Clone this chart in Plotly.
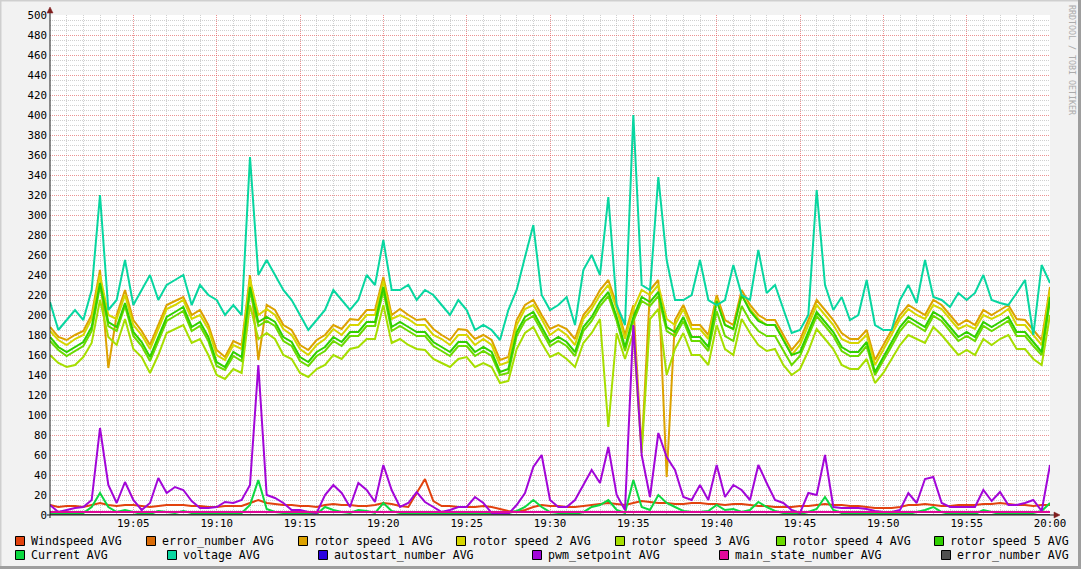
import pandas as pd
import plotly.graph_objects as go

# ---------------- data (30 s steps, 19:00 .. 20:00) ----------------
START = "2024-01-01 19:00:00"
END = "2024-01-01 20:00:00"
N_POINTS = 121
TIMES = pd.date_range(START, periods=N_POINTS, freq="30s")

TICK_TIMES = ["19:05", "19:10", "19:15", "19:20", "19:25", "19:30",
              "19:35", "19:40", "19:45", "19:50", "19:55", "20:00"]

windspeed = [10, 8, 9, 9, 8, 10, 12, 10, 9, 10, 10, 9, 8, 9, 10, 10, 10, 9, 9, 8,
             8, 9, 9, 9, 12, 15, 12, 11, 10, 10, 9, 9, 8, 10, 11, 10, 10, 9, 9, 10,
             12, 11, 9, 8, 22, 36, 14, 9, 9, 8, 8, 8, 9, 8, 6, 4, 3, 5, 8, 10,
             9, 9, 8, 8, 9, 10, 11, 12, 11, 10, 12, 14, 13, 12, 12, 11, 11, 12, 12, 11,
             11, 10, 11, 11, 10, 9, 9, 8, 8, 8, 9, 9, 10, 11, 10, 10, 9, 9, 8, 7,
             7, 7, 8, 10, 10, 11, 10, 9, 9, 10, 10, 10, 11, 11, 12, 11, 10, 10, 9, 10,
             10]

error_number_a = [0, 0, 0, 0, 0, 0, 0, 0, 0, 0, 0, 0, 0, 0, 0, 0, 0, 0, 0, 0,
                  0, 0, 0, 0, 0, 0, 0, 0, 0, 0, 0, 0, 0, 0, 0, 0, 0, 0, 0, 0,
                  0, 0, 0, 0, 0, 0, 0, 0, 0, 0, 0, 0, 0, 0, 0, 0, 0, 0, 0, 0,
                  0, 0, 0, 0, 0, 0, 0, 0, 0, 0, 0, 0, 0, 0, 0, 0, 0, 0, 0, 0,
                  0, 0, 0, 0, 0, 0, 0, 0, 0, 0, 0, 0, 0, 0, 0, 0, 0, 0, 0, 0,
                  0, 0, 0, 0, 0, 0, 0, 0, 0, 0, 0, 0, 0, 0, 0, 0, 0, 0, 0, 0,
                  0]

rotor1 = [188, 178, 175, 180, 184, 200, 245, 147, 200, 225, 195, 184, 170, 190, 210, 214, 218, 200, 205, 190,
          165, 158, 174, 170, 240, 155, 210, 205, 190, 185, 170, 165, 175, 180, 190, 186, 196, 195, 205, 205,
          238, 200, 206, 200, 195, 196, 186, 180, 175, 186, 185, 176, 180, 175, 155, 158, 195, 210, 215, 200,
          186, 190, 186, 176, 200, 210, 225, 235, 210, 180, 210, 65, 225, 235, 38, 195, 210, 190, 190, 180,
          220, 195, 190, 225, 210, 200, 195, 195, 180, 165, 175, 195, 215, 205, 195, 182, 176, 176, 185, 155,
          170, 186, 200, 210, 205, 200, 215, 210, 200, 190, 195, 190, 205, 200, 205, 210, 196, 195, 185, 175,
          228]

rotor2 = [184, 175, 170, 176, 180, 196, 240, 200, 196, 220, 190, 180, 166, 186, 206, 210, 215, 196, 200, 186,
          160, 155, 170, 166, 236, 200, 206, 200, 186, 180, 166, 160, 170, 176, 186, 180, 190, 190, 200, 200,
          234, 196, 200, 196, 190, 190, 180, 176, 170, 180, 180, 170, 176, 170, 150, 153, 190, 206, 210, 196,
          180, 186, 180, 170, 196, 206, 220, 230, 206, 176, 206, 225, 220, 230, 196, 190, 206, 186, 186, 176,
          216, 190, 186, 220, 206, 196, 190, 190, 176, 160, 170, 190, 210, 200, 190, 176, 172, 172, 180, 150,
          165, 180, 196, 206, 200, 196, 210, 206, 196, 186, 190, 186, 200, 196, 200, 206, 190, 190, 180, 170,
          225]

rotor3 = [160, 152, 148, 150, 158, 172, 215, 178, 170, 196, 166, 158, 142, 160, 182, 186, 190, 172, 176, 160,
          140, 136, 146, 142, 210, 176, 182, 176, 160, 156, 142, 138, 146, 150, 160, 156, 166, 168, 176, 176,
          210, 172, 176, 170, 166, 165, 156, 152, 148, 156, 158, 148, 152, 148, 132, 134, 166, 182, 188, 172,
          158, 162, 156, 148, 172, 182, 196, 88, 182, 156, 182, 62, 196, 206, 140, 166, 182, 160, 160, 150,
          190, 166, 160, 196, 182, 170, 164, 166, 150, 140, 146, 164, 186, 176, 166, 150, 146, 146, 156, 132,
          142, 156, 170, 180, 176, 172, 188, 180, 170, 160, 165, 160, 176, 170, 176, 180, 166, 166, 156, 150,
          200]

rotor4 = [174, 165, 159, 164, 169, 184, 229, 189, 184, 209, 179, 169, 154, 174, 194, 199, 204, 184, 189, 174,
          149, 145, 159, 154, 224, 189, 194, 189, 174, 169, 154, 149, 159, 164, 174, 169, 179, 179, 189, 189,
          224, 184, 189, 184, 179, 179, 169, 164, 159, 169, 169, 159, 164, 159, 140, 142, 179, 194, 199, 184,
          169, 174, 169, 159, 184, 194, 209, 219, 194, 164, 194, 214, 209, 219, 184, 179, 194, 174, 174, 164,
          204, 179, 174, 209, 194, 184, 179, 179, 164, 150, 159, 179, 199, 189, 179, 164, 159, 159, 169, 140,
          154, 169, 184, 194, 189, 184, 199, 194, 184, 174, 179, 174, 189, 184, 189, 194, 179, 179, 169, 160,
          214]

rotor5 = [178, 168, 163, 168, 173, 188, 232, 193, 188, 212, 183, 173, 158, 178, 198, 203, 208, 188, 193, 178,
          153, 148, 163, 158, 228, 193, 198, 193, 178, 173, 158, 153, 163, 168, 178, 173, 183, 183, 193, 193,
          228, 188, 193, 188, 183, 183, 173, 168, 163, 173, 173, 163, 168, 163, 143, 146, 183, 198, 203, 188,
          173, 178, 173, 163, 188, 198, 213, 223, 198, 168, 198, 218, 213, 223, 188, 183, 198, 178, 178, 168,
          214, 190, 186, 220, 204, 194, 190, 190, 175, 160, 163, 183, 203, 193, 183, 168, 163, 163, 173, 143,
          158, 173, 188, 198, 193, 188, 203, 198, 188, 178, 183, 178, 193, 188, 193, 198, 183, 183, 173, 163,
          218]

current = [2, 1, 1, 1, 2, 8, 22, 8, 3, 5, 3, 1, 1, 4, 3, 2, 4, 2, 1, 1,
           1, 1, 1, 2, 10, 35, 6, 3, 2, 1, 1, 1, 1, 8, 5, 3, 2, 5, 4, 2,
           12, 4, 2, 1, 1, 1, 1, 1, 1, 1, 1, 1, 1, 1, 1, 2, 4, 8, 15, 8,
           3, 2, 2, 1, 3, 8, 10, 15, 5, 2, 35, 8, 5, 20, 12, 8, 4, 3, 3, 4,
           10, 5, 6, 3, 5, 13, 8, 4, 2, 1, 1, 3, 6, 18, 5, 2, 1, 1, 1, 1,
           1, 1, 1, 1, 3, 5, 8, 3, 1, 1, 1, 1, 5, 3, 1, 1, 1, 2, 2, 4,
           12]

voltage = [213, 185, 195, 205, 195, 225, 320, 205, 215, 255, 210, 225, 240, 215, 230, 235, 240, 210, 230, 220,
           215, 200, 210, 200, 358, 240, 255, 240, 225, 215, 200, 185, 195, 205, 225, 215, 205, 215, 240, 230,
           275, 225, 225, 230, 215, 225, 220, 210, 200, 215, 205, 185, 190, 185, 175, 205, 225, 258, 290, 220,
           205, 210, 218, 190, 245, 260, 240, 318, 210, 190, 400, 230, 225, 338, 255, 215, 215, 220, 255, 215,
           210, 215, 250, 220, 215, 265, 222, 230, 205, 182, 185, 200, 325, 230, 205, 218, 195, 200, 235, 190,
           185, 185, 215, 230, 212, 255, 218, 215, 208, 222, 215, 222, 240, 215, 212, 210, 222, 235, 180, 250,
           232]

autostart = [0, 0, 0, 0, 0, 0, 0, 0, 0, 0, 0, 0, 0, 0, 0, 0, 0, 0, 0, 0,
             0, 0, 0, 0, 0, 0, 0, 0, 0, 0, 0, 0, 0, 0, 0, 0, 0, 0, 0, 0,
             0, 0, 0, 0, 0, 0, 0, 0, 0, 0, 0, 0, 0, 0, 0, 0, 0, 0, 0, 0,
             0, 0, 0, 0, 0, 0, 0, 0, 0, 0, 0, 0, 0, 0, 0, 0, 0, 0, 0, 0,
             0, 0, 0, 0, 0, 0, 0, 0, 0, 0, 0, 0, 0, 0, 0, 0, 0, 0, 0, 0,
             0, 0, 0, 0, 0, 0, 0, 0, 0, 0, 0, 0, 0, 0, 0, 0, 0, 0, 0, 0,
             0]

pwm_setpoint = [10, 3, 5, 7, 8, 15, 87, 30, 12, 33, 15, 5, 12, 37, 22, 28, 25, 14, 7, 7,
                8, 13, 12, 15, 30, 150, 20, 17, 12, 5, 5, 3, 2, 20, 30, 22, 8, 32, 25, 13,
                50, 25, 8, 12, 23, 13, 8, 3, 5, 8, 8, 18, 12, 2, 1, 1, 10, 22, 48, 60,
                15, 8, 8, 15, 30, 45, 32, 68, 20, 5, 190, 60, 18, 82, 58, 45, 18, 15, 30, 15,
                50, 18, 30, 25, 15, 50, 32, 15, 12, 5, 2, 22, 20, 60, 8, 7, 7, 7, 6, 4,
                3, 3, 5, 22, 12, 36, 38, 12, 8, 8, 8, 8, 25, 14, 23, 10, 10, 12, 15, 4,
                50]

main_state = [3, 3, 3, 3, 3, 3, 3, 3, 3, 3, 3, 3, 3, 3, 3, 3, 3, 3, 3, 3,
              3, 3, 3, 3, 3, 3, 3, 3, 3, 3, 3, 3, 3, 3, 3, 3, 3, 3, 3, 3,
              3, 3, 3, 3, 3, 3, 3, 3, 3, 3, 3, 3, 3, 3, 3, 3, 3, 3, 3, 3,
              3, 3, 3, 3, 3, 3, 3, 3, 3, 3, 3, 3, 3, 3, 3, 3, 3, 3, 3, 3,
              3, 3, 3, 3, 3, 3, 3, 3, 3, 3, 3, 3, 3, 3, 3, 3, 3, 3, 3, 3,
              3, 3, 3, 3, 3, 3, 3, 3, 3, 3, 3, 3, 3, 3, 3, 3, 3, 3, 3, 3,
              3]

error_number_b = [0, 0, 0, 0, 0, 0, 0, 0, 0, 0, 0, 0, 0, 0, 0, 0, 0, 0, 0, 0,
                  0, 0, 0, 0, 0, 0, 0, 0, 0, 0, 0, 0, 0, 0, 0, 0, 0, 0, 0, 0,
                  0, 0, 0, 0, 0, 0, 0, 0, 0, 0, 0, 0, 0, 0, 0, 0, 0, 0, 0, 0,
                  0, 0, 0, 0, 0, 0, 0, 0, 0, 0, 0, 0, 0, 0, 0, 0, 0, 0, 0, 0,
                  0, 0, 0, 0, 0, 0, 0, 0, 0, 0, 0, 0, 0, 0, 0, 0, 0, 0, 0, 0,
                  0, 0, 0, 0, 0, 0, 0, 0, 0, 0, 0, 0, 0, 0, 0, 0, 0, 0, 0, 0,
                  0]

SERIES_NAMES = ["Windspeed AVG", "error_number AVG", "rotor speed 1 AVG", "rotor speed 2 AVG",
                "rotor speed 3 AVG", "rotor speed 4 AVG", "rotor speed 5 AVG",
                "Current AVG", "voltage AVG", "autostart_number AVG", "pwm_setpoint AVG",
                "main_state_number AVG", "error_number AVG"]
SERIES_VALUES = [windspeed, error_number_a, rotor1, rotor2, rotor3, rotor4, rotor5,
                 current, voltage, autostart, pwm_setpoint, main_state, error_number_b]
SERIES_COLORS = ["#E2420E", "#DA6C08", "#DCA200", "#D6D600", "#A6DE00", "#6CDA00", "#30D000",
                 "#0CD840", "#08D6A0", "#2A00E0", "#A206D8", "#E0089A", "#505050"]

# ---------------- geometry helpers (pixel -> paper) ----------------
W, H = 1081, 569
L, R, T, B = 50, 1050, 15, 515


def px(x):
    return (x - L) / (R - L)


def py(y):
    return (B - y) / (B - T)


fig = go.Figure()
for name, vals, col in zip(SERIES_NAMES, SERIES_VALUES, SERIES_COLORS):
    fig.add_trace(go.Scatter(x=TIMES, y=vals, mode="lines", name=name,
                             line=dict(color=col, width=2), hoverinfo="skip",
                             showlegend=False))

MONO = "DejaVu Sans Mono"
tickvals = [pd.Timestamp("2024-01-01 " + t) for t in TICK_TIMES]
# minor grid positions (every minute / every 5 units), skipping the major ones
x_minor = [pd.Timestamp(START) + pd.Timedelta(minutes=m) for m in range(1, 60) if m % 5 != 0]
y_minor = [v for v in range(5, 500, 5) if v % 20 != 0]

MAJOR_GRID = "rgba(222,79,79,0.62)"
MINOR_GRID = "rgba(143,143,143,0.42)"

fig.update_layout(
    width=W, height=H,
    margin=dict(l=L, r=W - R, t=T, b=H - B),
    paper_bgcolor="#F2F2F2", plot_bgcolor="#FFFFFF",
    showlegend=False,
    font=dict(family=MONO, color="#000000", size=11),
    xaxis=dict(
        type="date", range=[START, END], tickmode="array", tickvals=tickvals,
        ticktext=TICK_TIMES, showline=False, zeroline=False, ticks="",
        showgrid=True, gridcolor=MAJOR_GRID, griddash="1px,1px", gridwidth=1,
        tickfont=dict(family=MONO, size=10.8, color="#000000"),
        automargin=False, fixedrange=True,
        minor=dict(tickmode="array", tickvals=x_minor, showgrid=True,
                   gridcolor=MINOR_GRID, griddash="1px,1px", gridwidth=1),
    ),
    yaxis=dict(
        range=[0, 500], tickmode="linear", tick0=0, dtick=20, showline=False,
        zeroline=False, ticks="", ticklabelstandoff=2,
        showgrid=True, gridcolor=MAJOR_GRID, griddash="1px,1px", gridwidth=1,
        tickfont=dict(family=MONO, size=10.8, color="#000000"),
        automargin=False, fixedrange=True,
        minor=dict(tickmode="array", tickvals=y_minor, showgrid=True,
                   gridcolor=MINOR_GRID, griddash="1px,1px", gridwidth=1),
    ),
)

shapes = []
# frame shading
shapes.append(dict(type="line", xref="paper", yref="paper", x0=px(0), x1=px(W), y0=py(0.75), y1=py(0.75),
                   line=dict(color="#CFCFCF", width=1.5)))
shapes.append(dict(type="line", xref="paper", yref="paper", x0=px(0.75), x1=px(0.75), y0=py(0), y1=py(H),
                   line=dict(color="#CFCFCF", width=1.5)))
shapes.append(dict(type="line", xref="paper", yref="paper", x0=px(W - 1.5), x1=px(W - 1.5), y0=py(0), y1=py(H),
                   line=dict(color="#9E9E9E", width=3)))
shapes.append(dict(type="line", xref="paper", yref="paper", x0=px(0), x1=px(W), y0=py(H - 1.5), y1=py(H - 1.5),
                   line=dict(color="#9E9E9E", width=3)))
# axes
shapes.append(dict(type="line", xref="paper", yref="paper", x0=px(L), x1=px(L), y0=py(B + 3), y1=py(11),
                   line=dict(color="#1F1F1F", width=1), layer="above"))
shapes.append(dict(type="line", xref="paper", yref="paper", x0=px(L - 3), x1=px(R + 6), y0=py(B), y1=py(B),
                   line=dict(color="#1F1F1F", width=1), layer="above"))
# arrows
shapes.append(dict(type="path", xref="paper", yref="paper",
                   path=f"M {px(L - 3)} {py(13)} L {px(L + 3)} {py(13)} L {px(L)} {py(7)} Z",
                   fillcolor="#801F1F", line=dict(color="#801F1F", width=0.5), layer="above"))
shapes.append(dict(type="path", xref="paper", yref="paper",
                   path=f"M {px(R + 4)} {py(B - 3)} L {px(R + 4)} {py(B + 3)} L {px(R + 10)} {py(B)} Z",
                   fillcolor="#801F1F", line=dict(color="#801F1F", width=0.5), layer="above"))

annotations = []
# legend (RRDtool style, two justified rows)
LEGEND_ROWS = [
    (541, [0, 1, 2, 3, 4, 5, 6], [15, 146, 298, 456, 615, 776, 934]),
    (555, [7, 8, 9, 10, 11, 12], [15, 167, 318, 532, 719, 941]),
]
for yrow, idxs, xs in LEGEND_ROWS:
    for i, x0 in zip(idxs, xs):
        shapes.append(dict(type="rect", xref="paper", yref="paper",
                           x0=px(x0 + 0.5), x1=px(x0 + 9.5), y0=py(yrow - 4.5), y1=py(yrow + 4.5),
                           fillcolor=SERIES_COLORS[i], line=dict(color="#000000", width=1)))
        annotations.append(dict(xref="paper", yref="paper", x=px(x0 + 14), y=py(yrow),
                                xanchor="left", yanchor="middle", showarrow=False,
                                text=SERIES_NAMES[i], font=dict(family=MONO, size=11.6, color="#000000")))

annotations.append(dict(xref="paper", yref="paper", x=px(1072), y=py(60), textangle=90,
                        xanchor="center", yanchor="middle", showarrow=False,
                        text="RRDTOOL / TOBI OETIKER",
                        font=dict(family=MONO, size=8.3, color="#ABABAB")))

fig.update_layout(shapes=shapes, annotations=annotations)
fig.write_html("out.html", config={"displayModeBar": False},
               post_script="document.body.style.margin='0';document.body.style.overflow='hidden';")
